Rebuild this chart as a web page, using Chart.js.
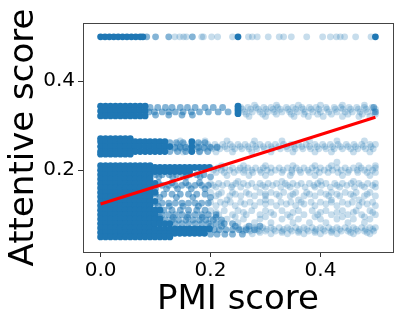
<!DOCTYPE html>
<html>
<head>
<meta charset="utf-8">
<script src="https://cdn.jsdelivr.net/npm/chart.js@4.4.0/dist/chart.umd.min.js"></script>
<style>
  html, body { margin: 0; padding: 0; background: #fff; }
  #wrap { width: 399px; height: 323px; }
</style>
</head>
<body>
<div id="wrap"><canvas id="scatterChart" width="399" height="323"></canvas></div>
<script>
// axis text
const X_TITLE = 'PMI score';
const Y_TITLE = 'Attentive score';
const xTicks = [0, 0.2, 0.4];
const yTicks = [0.2, 0.4];

// fitted regression line
const fitX = [0, 0.5];
const fitY = [0.124, 0.319];

// solid block of points at low PMI
const coreX = [0, 0.009, 0.018, 0.027, 0.036, 0.045, 0.054, 0.063, 0.072, 0.081, 0.09];
const coreY = [0.21, 0.2, 0.19, 0.18, 0.17, 0.16, 0.15, 0.14, 0.13, 0.12, 0.11, 0.1, 0.09, 0.08, 0.07, 0.06, 0.05];

// rows as [attentive score, [pmi scores...]]
const denseRows = [
  [0.5, [0, 0.008, 0.016, 0.024, 0.032, 0.04, 0.048, 0.056, 0.064, 0.072, 0.077, 0.25, 0.5]],
  [0.344, [0, 0.009, 0.018, 0.027, 0.036, 0.045, 0.054, 0.063, 0.072, 0.081, 0.25]],
  [0.333, [0, 0.009, 0.018, 0.027, 0.036, 0.045, 0.054, 0.063, 0.072, 0.081, 0.25]],
  [0.322, [0, 0.009, 0.018, 0.027, 0.036, 0.045, 0.054, 0.063, 0.072, 0.081]],
  [0.338, [0.25]],
  [0.327, [0.25]],
  [0.271, [0, 0.009, 0.018, 0.027, 0.036, 0.045, 0.054]],
  [0.264, [0, 0.009, 0.018, 0.027, 0.036, 0.045, 0.054, 0.063, 0.072, 0.081, 0.09, 0.099, 0.108, 0.117, 0.166]],
  [0.253, [0, 0.009, 0.018, 0.027, 0.036, 0.045, 0.054, 0.063, 0.072, 0.081, 0.09, 0.099, 0.108, 0.117, 0.126, 0.166]],
  [0.242, [0, 0.009, 0.018, 0.027, 0.036, 0.045, 0.054, 0.063, 0.072, 0.081, 0.09, 0.099, 0.108, 0.117, 0.166]],
  [0.236, [0, 0.009, 0.018, 0.027, 0.036, 0.045, 0.054]],
  [0.206, [0.099, 0.108, 0.117, 0.126, 0.135, 0.144, 0.153, 0.162, 0.171, 0.18, 0.189, 0.198]],
  [0.197, [0.099, 0.108, 0.117, 0.126, 0.135, 0.144, 0.153, 0.162]],
  [0.068, [0.099, 0.108, 0.117, 0.126, 0.135, 0.144, 0.153, 0.162, 0.171, 0.18, 0.189, 0.198]],
  [0.058, [0.099, 0.108, 0.117, 0.126, 0.135, 0.144, 0.153, 0.162, 0.171, 0.18, 0.189]],
  [0.05, [0.099, 0.108, 0.117, 0.126]],
  [0.17, [0.099]],
  [0.15, [0.099]],
  [0.13, [0.099]],
  [0.11, [0.099, 0.108]],
  [0.1, [0.099]],
  [0.09, [0.099, 0.108]],
  [0.08, [0.099, 0.108, 0.117, 0.126]]
];

const midRows = [
  [0.5, [0.084, 0.1, 0.124, 0.167]],
  [0.341, [0.09, 0.104, 0.118, 0.13, 0.145, 0.158, 0.172, 0.19, 0.205, 0.222, 0.497]],
  [0.331, [0.088, 0.098, 0.112, 0.124, 0.136, 0.15, 0.165, 0.18, 0.196, 0.214, 0.232, 0.5]],
  [0.324, [0.1, 0.124, 0.148, 0.167]],
  [0.262, [0.126, 0.138, 0.15, 0.178, 0.19]],
  [0.251, [0.135, 0.145, 0.155, 0.178, 0.188, 0.2, 0.212]],
  [0.242, [0.126, 0.14, 0.155, 0.18, 0.195]],
  [0.19, [0.1, 0.112, 0.125, 0.138, 0.15, 0.162, 0.175, 0.188]],
  [0.185, [0.106, 0.131, 0.156, 0.181, 0.2]],
  [0.172, [0.105, 0.13, 0.155, 0.18]],
  [0.166, [0.1, 0.112, 0.124, 0.136, 0.148, 0.16, 0.172, 0.184, 0.196]],
  [0.158, [0.1, 0.12, 0.14, 0.165, 0.19]],
  [0.146, [0.1, 0.115, 0.13, 0.145, 0.16, 0.175, 0.19]],
  [0.139, [0.108, 0.138, 0.168, 0.2]],
  [0.126, [0.1, 0.112, 0.124, 0.136, 0.148, 0.16, 0.172, 0.184, 0.196]],
  [0.119, [0.105, 0.125, 0.15, 0.178]],
  [0.11, [0.1, 0.115, 0.13, 0.145, 0.16, 0.175, 0.19]],
  [0.1, [0.1, 0.112, 0.124, 0.136, 0.148, 0.16, 0.172, 0.184, 0.196, 0.21]],
  [0.094, [0.108, 0.132, 0.158, 0.185, 0.21]],
  [0.088, [0.118, 0.13, 0.142, 0.155, 0.168, 0.18, 0.192, 0.205, 0.22]],
  [0.08, [0.136, 0.148, 0.16, 0.172, 0.184, 0.196, 0.21, 0.225, 0.24]],
  [0.066, [0.207, 0.216, 0.228, 0.24, 0.252, 0.265, 0.28]],
  [0.056, [0.2, 0.212, 0.226, 0.24, 0.258]],
  [0.074, [0.2, 0.22, 0.245, 0.27, 0.29]]
];

const sparseRows = [
  [0.5, [0.135, 0.144, 0.151, 0.156, 0.184, 0.187, 0.202, 0.213, 0.24, 0.269, 0.276, 0.285, 0.305, 0.325, 0.333, 0.347, 0.375, 0.404, 0.418, 0.429, 0.436, 0.444, 0.464, 0.492]],
  [0.346, [0.28, 0.32, 0.36, 0.4, 0.44, 0.48]],
  [0.341, [0.255, 0.268, 0.283, 0.297, 0.31, 0.322, 0.338, 0.35, 0.366, 0.38, 0.392, 0.41, 0.425, 0.437, 0.452, 0.466, 0.48, 0.494]],
  [0.337, [0.258, 0.273, 0.287, 0.301, 0.314, 0.327, 0.341, 0.355, 0.369, 0.383, 0.397, 0.412, 0.427, 0.441, 0.455, 0.469, 0.483, 0.5]],
  [0.331, [0.262, 0.276, 0.29, 0.304, 0.316, 0.33, 0.344, 0.358, 0.372, 0.386, 0.4, 0.415, 0.43, 0.445, 0.458, 0.472, 0.486, 0.497]],
  [0.326, [0.265, 0.295, 0.32, 0.347, 0.37, 0.395, 0.42, 0.45, 0.476, 0.5]],
  [0.321, [0.27, 0.3, 0.352, 0.378, 0.405, 0.44, 0.47, 0.49]],
  [0.266, [0.145, 0.19, 0.23, 0.28, 0.33, 0.38, 0.43, 0.48]],
  [0.258, [0.14, 0.152, 0.17, 0.182, 0.195, 0.208, 0.222, 0.236, 0.25, 0.263, 0.277, 0.29, 0.305, 0.318, 0.333, 0.347, 0.36, 0.374, 0.39, 0.404, 0.418, 0.432, 0.447, 0.461, 0.475, 0.49, 0.5]],
  [0.253, [0.145, 0.16, 0.175, 0.198, 0.212, 0.226, 0.24, 0.254, 0.268, 0.282, 0.296, 0.31, 0.324, 0.338, 0.352, 0.366, 0.38, 0.394, 0.408, 0.422, 0.436, 0.45, 0.464, 0.478, 0.492]],
  [0.248, [0.136, 0.148, 0.16, 0.176, 0.19, 0.203, 0.217, 0.23, 0.244, 0.257, 0.27, 0.284, 0.298, 0.312, 0.327, 0.34, 0.354, 0.368, 0.382, 0.397, 0.41, 0.425, 0.44, 0.455, 0.468, 0.482, 0.496]],
  [0.241, [0.15, 0.18, 0.21, 0.24, 0.275, 0.31, 0.35, 0.39, 0.42, 0.46, 0.49]],
  [0.218, [0.43]],
  [0.21, [0.22, 0.26, 0.3, 0.35, 0.39, 0.42, 0.47, 0.5]],
  [0.205, [0.2, 0.213, 0.226, 0.24, 0.254, 0.268, 0.282, 0.296, 0.31, 0.325, 0.34, 0.356, 0.37, 0.385, 0.4, 0.415, 0.43, 0.445, 0.46, 0.474, 0.488, 0.5]],
  [0.2, [0.205, 0.22, 0.235, 0.25, 0.262, 0.275, 0.29, 0.303, 0.318, 0.332, 0.348, 0.362, 0.377, 0.392, 0.407, 0.422, 0.438, 0.452, 0.467, 0.48, 0.495]],
  [0.195, [0.21, 0.225, 0.243, 0.26, 0.277, 0.292, 0.31, 0.33, 0.348, 0.364, 0.38, 0.398, 0.414, 0.432, 0.45, 0.468, 0.485, 0.5]],
  [0.188, [0.23, 0.27, 0.3, 0.345, 0.39, 0.44, 0.49]],
  [0.175, [0.25, 0.33, 0.4, 0.46]],
  [0.17, [0.2, 0.215, 0.23, 0.246, 0.26, 0.275, 0.29, 0.305, 0.32, 0.336, 0.35, 0.365, 0.38, 0.395, 0.41, 0.426, 0.44, 0.456, 0.47, 0.486, 0.5]],
  [0.166, [0.205, 0.222, 0.24, 0.268, 0.295, 0.313, 0.34, 0.358, 0.388, 0.402, 0.43, 0.448, 0.475, 0.495]],
  [0.162, [0.21, 0.238, 0.255, 0.283, 0.3, 0.328, 0.345, 0.372, 0.39, 0.418, 0.435, 0.462, 0.48, 0.5]],
  [0.15, [0.2, 0.22, 0.24, 0.265, 0.29, 0.31, 0.333, 0.355, 0.375, 0.4, 0.42, 0.445, 0.465, 0.49]],
  [0.146, [0.215, 0.245, 0.27, 0.3, 0.32, 0.35, 0.38, 0.41, 0.43, 0.455, 0.485]],
  [0.142, [0.21, 0.235, 0.255, 0.28, 0.3, 0.325, 0.345, 0.37, 0.39, 0.415, 0.435, 0.46, 0.48, 0.5]],
  [0.133, [0.23, 0.3, 0.36, 0.42, 0.47]],
  [0.128, [0.2, 0.218, 0.236, 0.255, 0.272, 0.29, 0.31, 0.328, 0.346, 0.365, 0.383, 0.4, 0.42, 0.44, 0.458, 0.476, 0.495]],
  [0.124, [0.226, 0.262, 0.3, 0.338, 0.37, 0.41, 0.45, 0.485]],
  [0.12, [0.21, 0.245, 0.28, 0.32, 0.355, 0.39, 0.43, 0.47, 0.5]],
  [0.109, [0.2, 0.225, 0.25, 0.275, 0.3, 0.33, 0.36, 0.385, 0.41, 0.44, 0.465, 0.49]],
  [0.105, [0.21, 0.26, 0.31, 0.35, 0.4, 0.43, 0.46, 0.495]],
  [0.1, [0.215, 0.24, 0.265, 0.29, 0.315, 0.34, 0.37, 0.395, 0.42, 0.45, 0.475, 0.5]],
  [0.095, [0.245, 0.3, 0.345, 0.39, 0.44, 0.48]],
  [0.09, [0.2, 0.23, 0.26, 0.29, 0.33, 0.36, 0.4, 0.43, 0.46, 0.49]],
  [0.082, [0.22, 0.25, 0.28, 0.31, 0.35, 0.38, 0.41, 0.45, 0.48]],
  [0.071, [0.25, 0.265, 0.28, 0.295, 0.31, 0.325, 0.34, 0.355, 0.37, 0.385, 0.4, 0.415, 0.43, 0.445, 0.46, 0.475, 0.49, 0.5]],
  [0.067, [0.255, 0.27, 0.285, 0.302, 0.315, 0.333, 0.345, 0.362, 0.375, 0.392, 0.405, 0.422, 0.435, 0.452, 0.465, 0.482, 0.495]],
  [0.063, [0.26, 0.272, 0.288, 0.3, 0.318, 0.33, 0.348, 0.36, 0.378, 0.39, 0.408, 0.42, 0.438, 0.45, 0.468, 0.48, 0.497]],
  [0.06, [0.29, 0.33, 0.36, 0.39, 0.42, 0.455, 0.485]],
  [0.057, [0.276, 0.31, 0.34, 0.37, 0.4, 0.43, 0.46, 0.49]]
];

function rowsToPoints(rows) {
  const pts = [];
  rows.forEach(([y, xs]) => xs.forEach(x => pts.push({x: x, y: y})));
  return pts;
}

const corePoints = [];
coreY.forEach(y => coreX.forEach(x => corePoints.push({x: x, y: y})));

const BLUE = a => 'rgba(31,119,180,' + a + ')';
const FONT = '"DejaVu Sans", sans-serif';

function dotSet(points, alpha, order) {
  return {
    data: points,
    backgroundColor: BLUE(alpha),
    borderWidth: 0,
    pointRadius: 3.4,
    pointHoverRadius: 3.4,
    order: order
  };
}

const frameAndTitles = {
  id: 'frameAndTitles',
  afterDraw(chart) {
    const {ctx, chartArea: a} = chart;
    ctx.save();
    ctx.strokeStyle = '#444';
    ctx.lineWidth = 1;
    ctx.strokeRect(a.left + 0.5, a.top + 0.5, a.right - a.left, a.bottom - a.top);
    ctx.fillStyle = '#000';
    ctx.font = '34px ' + FONT;
    ctx.textAlign = 'center';
    ctx.textBaseline = 'alphabetic';
    ctx.fillText(X_TITLE, (a.left + a.right) / 2, 309);
    ctx.translate(33, (a.top + a.bottom) / 2);
    ctx.rotate(-Math.PI / 2);
    ctx.fillText(Y_TITLE, 0, 0);
    ctx.restore();
  }
};

new Chart(document.getElementById('scatterChart').getContext('2d'), {
  type: 'scatter',
  data: {
    datasets: [
      {
        data: fitX.map((x, i) => ({x: x, y: fitY[i]})),
        showLine: true,
        borderColor: '#ff0000',
        borderWidth: 3,
        pointRadius: 0,
        order: 0
      },
      dotSet(rowsToPoints(sparseRows), 0.25, 3),
      dotSet(rowsToPoints(midRows), 0.55, 2),
      dotSet(corePoints.concat(rowsToPoints(denseRows)), 1, 1)
    ]
  },
  options: {
    responsive: false,
    animation: false,
    events: [],
    layout: { padding: { top: 23, right: 6, left: 0, bottom: 0 } },
    plugins: { legend: { display: false }, tooltip: { enabled: false } },
    scales: {
      x: {
        type: 'linear',
        min: -0.032,
        max: 0.532,
        afterBuildTicks: s => { s.ticks = xTicks.map(v => ({value: v})); },
        afterFit: s => { s.height = 71; },
        grid: { drawOnChartArea: false, drawTicks: true, tickLength: 5, tickColor: '#333', tickWidth: 1 },
        border: { display: false },
        ticks: {
          padding: 2,
          color: '#000',
          font: { family: FONT, size: 20 },
          maxRotation: 0,
          callback: v => v.toFixed(1)
        }
      },
      y: {
        type: 'linear',
        min: 0.016,
        max: 0.531,
        afterBuildTicks: s => { s.ticks = yTicks.map(v => ({value: v})); },
        afterFit: s => { s.width = 83; },
        grid: { drawOnChartArea: false, drawTicks: true, tickLength: 5, tickColor: '#333', tickWidth: 1 },
        border: { display: false },
        ticks: {
          padding: 3,
          color: '#000',
          font: { family: FONT, size: 20 },
          callback: v => v.toFixed(1)
        }
      }
    }
  },
  plugins: [frameAndTitles]
});
</script>
</body>
</html>
